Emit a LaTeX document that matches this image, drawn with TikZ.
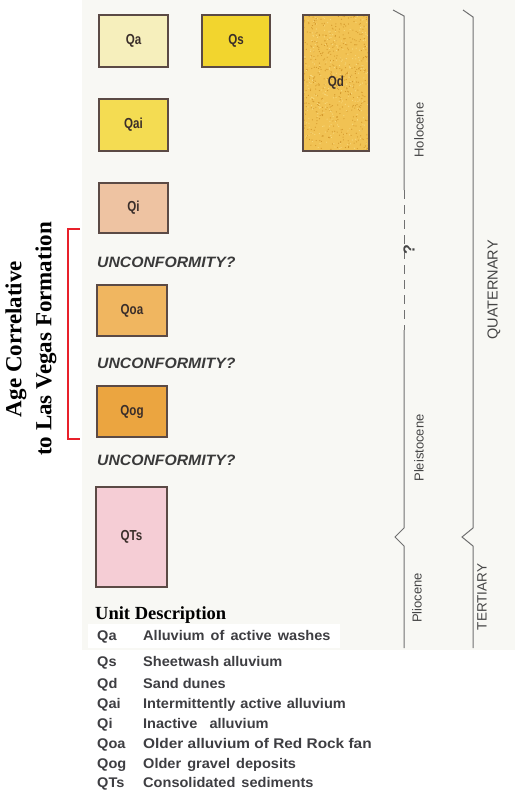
\documentclass[tikz,border=0pt]{standalone}
\usepackage{fontspec}
\setmainfont{Liberation Serif}
\newfontfamily\sansf{Liberation Sans}
\newfontfamily\uncf[FakeStretch=1.05]{Liberation Sans}
\newfontfamily\legf[FakeStretch=1.04]{Liberation Sans}
\newfontfamily\legwide[FakeStretch=1.1]{Liberation Sans}
\newfontfamily\condf[FakeStretch=0.8]{Liberation Sans}
\usetikzlibrary{calc}
\definecolor{paper}{HTML}{F8F8F4}
\definecolor{boxline}{HTML}{5B4A45}
\definecolor{labtext}{HTML}{3A2E2A}
\definecolor{cQa}{HTML}{F6EFBC}
\definecolor{cQs}{HTML}{F2D52E}
\definecolor{cQd}{HTML}{F1C253}
\definecolor{speckA}{HTML}{D4982C}
\definecolor{speckB}{HTML}{F8DA80}
\definecolor{cQai}{HTML}{F4DC52}
\definecolor{cQi}{HTML}{EEC3A2}
\definecolor{cQoa}{HTML}{F0B660}
\definecolor{cQog}{HTML}{EBA540}
\definecolor{cQTs}{HTML}{F5CDD5}
\definecolor{unctext}{HTML}{3A3A3A}
\definecolor{legtext}{HTML}{3E3E42}
\definecolor{scaleline}{HTML}{707070}
\definecolor{scaletext}{HTML}{454545}
\definecolor{redline}{HTML}{E8202A}
\begin{document}
\begin{tikzpicture}[x=1pt,y=-1pt,
  unitbox/.style={draw=boxline, line width=1.4pt, inner sep=0pt,
    font=\condf\bfseries\fontsize{14.5}{14.5}\selectfont, text=labtext},
  uncnode/.style={anchor=west, inner sep=0pt,
    font=\uncf\bfseries\itshape\fontsize{15}{15}\selectfont, text=unctext},
  scalelabel/.style={rotate=90, inner sep=0pt, text=scaletext,
    font=\sansf\fontsize{13}{13}\selectfont},
  scaleline/.style={draw=scaleline, line width=1pt},
  legcode/.style={anchor=base west, inner sep=0pt, text=legtext,
    font=\legf\bfseries\fontsize{14}{14}\selectfont},
  bracket/.style={draw=redline, line width=1.8pt}
]
\useasboundingbox (0,0) rectangle (515,803);
\fill[white] (0,0) rectangle (515,803);
\fill[paper] (82,0) rectangle (515,650);
\fill[white] (88,624) rectangle (340,648);

% unit boxes
\node[unitbox, fill=cQa, minimum width=69, minimum height=52] (qa) at (133.5,41) {Qa};
\node[unitbox, fill=cQs, minimum width=68, minimum height=52] (qs) at (236,41) {Qs};
\node[unitbox, fill=cQd, minimum width=66, minimum height=136,
  path picture={
    \pgfmathsetseed{11}
    \foreach \i in {1,...,500} {\fill[speckA] ($(path picture bounding box.center)+({-34+68*rnd},{-69+138*rnd})$) circle (0.6);}
    \foreach \i in {1,...,300} {\fill[speckB] ($(path picture bounding box.center)+({-34+68*rnd},{-69+138*rnd})$) circle (0.6);}
  }] (qd) at (336,83) {Qd};
\node[unitbox, fill=cQai, minimum width=69, minimum height=52] (qai) at (133.5,125) {Qai};
\node[unitbox, fill=cQi, minimum width=69, minimum height=50] (qi) at (133.5,208) {Qi};
\node[unitbox, fill=cQoa, minimum width=70, minimum height=51] (qoa) at (132,310.5) {Qoa};
\node[unitbox, fill=cQog, minimum width=70, minimum height=51] (qog) at (132,411.5) {Qog};
\node[unitbox, fill=cQTs, minimum width=71, minimum height=100] (qts) at (131.5,537) {QTs};

% unconformities
\node[uncnode] (u1) at (97,262) {UNCONFORMITY?};
\node[uncnode] (u2) at (97,363) {UNCONFORMITY?};
\node[uncnode] (u3) at (97,460) {UNCONFORMITY?};

% red bracket and side title
\coordinate (rbtop) at (80,229);
\coordinate (rbbot) at (80,439);
\draw[bracket] (rbtop) -- ++(-12,0) |- (rbbot);
\node[rotate=90, inner sep=0pt, align=center,
  font=\bfseries\fontsize{23}{30}\selectfont] (agetext) at (31,339)
  {Age Correlative\\to Las Vegas Formation};

% epoch scale line
\coordinate (e0) at (393,10);
\coordinate (e1) at (404,16);
\coordinate (e2) at (404,190);
\coordinate (e3) at (404,330);
\coordinate (e4) at (404,528);
\coordinate (e5) at (395,537);
\coordinate (e6) at (404,546);
\coordinate (e7) at (404,648);
\draw[scaleline] (e0) -- (e1) -- (e2);
\draw[scaleline, dash pattern=on 9pt off 6pt] (e2) -- (e3);
\draw[scaleline] (e3) -- (e4) -- (e5) -- (e6) -- (e7);
\node[rotate=90, inner sep=0pt, text=scaletext, font=\sansf\bfseries\fontsize{16}{16}\selectfont] (qmark) at (409,250) {?};

% period scale line
\coordinate (p0) at (463,10);
\coordinate (p1) at (473,17);
\coordinate (p4) at (473,528);
\coordinate (p5) at (462,537);
\coordinate (p6) at (473,546);
\coordinate (p7) at (473,648);
\draw[scaleline] (p0) -- (p1) -- (p4) -- (p5) -- (p6) -- (p7);

\node[scalelabel] (holo) at (419,130) {Holocene};
\node[scalelabel] (pleis) at (419,448) {Pleistocene};
\node[scalelabel] (plio) at (417,598) {Pliocene};
\node[scalelabel, font=\sansf\fontsize{14.5}{14.5}\selectfont] (quat) at (494,290) {QUATERNARY};
\node[scalelabel, font=\sansf\fontsize{13.5}{13.5}\selectfont] (tert) at (482,597) {TERTIARY};

% legend
\node[anchor=base west, inner sep=0pt, font=\bfseries\fontsize{18.5}{20}\selectfont] (legtitle) at (95,619) {Unit Description};
\node[legcode] (c1) at (97,640) {Qa};
\node[legcode] (d1) at (143,640) {Alluvium\hspace{2pt} of\hspace{2pt} active\hspace{2pt} washes};
\node[legcode] (c2) at (97,666) {Qs};
\node[legcode] (d2) at (143,666) {Sheetwash alluvium};
\node[legcode] (c3) at (97,688) {Qd};
\node[legcode] (d3) at (143,688) {Sand dunes};
\node[legcode] (c4) at (97,708) {Qai};
\node[legcode] (d4) at (143,708) {Intermittently\hspace{1pt} active\hspace{1pt} alluvium};
\node[legcode] (c5) at (97,728) {Qi};
\node[legcode] (d5) at (143,728) {Inactive\ \ \ alluvium};
\node[legcode] (c6) at (97,748) {Qoa};
\node[legcode, font=\legwide\bfseries\fontsize{14}{14}\selectfont] (d6) at (143,748) {Older alluvium of Red Rock fan};
\node[legcode] (c7) at (97,768) {Qog};
\node[legcode] (d7) at (143,768) {Older\hspace{2pt} gravel\hspace{2pt} deposits};
\node[legcode] (c8) at (97,787) {QTs};
\node[legcode] (d8) at (143,787) {Consolidated\hspace{2pt} sediments};
\end{tikzpicture}
\end{document}
